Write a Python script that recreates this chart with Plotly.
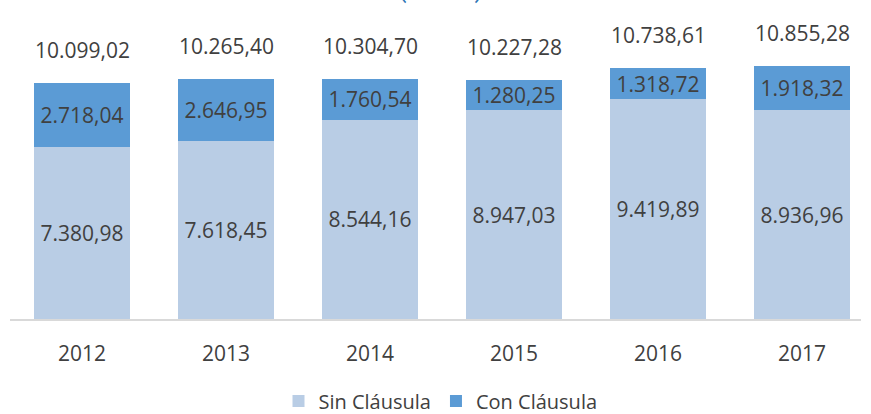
import plotly.graph_objects as go

years = ["2012", "2013", "2014", "2015", "2016", "2017"]
sin_clausula = [7380.98, 7618.45, 8544.16, 8947.03, 9419.89, 8936.96]
con_clausula = [2718.04, 2646.95, 1760.54, 1280.25, 1318.72, 1918.32]
totales = [10099.02, 10265.40, 10304.70, 10227.28, 10738.61, 10855.28]
series_names = ["Sin Cláusula", "Con Cláusula"]
title_text = "(en miles)"


def fmt(v):
    s = f"{v:,.2f}"
    return s.replace(",", "X").replace(".", ",").replace("X", ".")


FONT = "Open Sans"
TXT = "#404040"

fig = go.Figure()
fig.add_trace(go.Bar(
    x=years, y=sin_clausula, name=series_names[0],
    marker=dict(color="#B9CDE5", line=dict(width=0)),
    text=[fmt(v) for v in sin_clausula], textposition="inside",
    insidetextanchor="middle", textangle=0,
    textfont=dict(family=FONT, size=21, color=TXT),
    hoverinfo="skip",
))
fig.add_trace(go.Bar(
    x=years, y=con_clausula, name=series_names[1],
    marker=dict(color="#5B9BD5", line=dict(width=0)),
    text=[fmt(v) for v in con_clausula], textposition="inside",
    insidetextanchor="middle", textangle=0,
    textfont=dict(family=FONT, size=21, color=TXT),
    hoverinfo="skip",
))

for i, t in enumerate(totales):
    fig.add_annotation(x=i, y=t, xref="x", yref="y", text=fmt(t),
                       showarrow=False, yanchor="middle", yshift=33,
                       font=dict(family=FONT, size=21, color=TXT))

fig.add_annotation(x=441 / 871, y=1, xref="paper", yref="paper", text=title_text,
                   showarrow=False, yanchor="bottom", yshift=-6,
                   font=dict(family="Roboto", size=18, color="#2E75B6",
                             weight="bold"))

W = 871 - 10 - 10
fig.update_layout(
    width=871, height=414,
    margin=dict(l=10, r=10, t=0, b=95, pad=0),
    barmode="stack", bargap=0.333,
    plot_bgcolor="white", paper_bgcolor="white",
    uniformtext=dict(mode="show", minsize=21),
    showlegend=True,
    legend=dict(orientation="h", x=0.5 + 5 / 871, xanchor="center",
                xref="container", yref="container", y=13 / 414,
                yanchor="middle", font=dict(family=FONT, size=20, color=TXT),
                itemwidth=30, traceorder="normal"),
    xaxis=dict(type="category", range=[-0.5, -0.5 + W / 144.0],
               showline=True, linecolor="#D9D9D9", linewidth=2,
               ticks="", showgrid=False, ticklabelstandoff=15,
               tickfont=dict(family=FONT, size=21, color=TXT)),
    yaxis=dict(range=[0, 319 * 42.85], visible=False, showgrid=False,
               zeroline=False),
)
fig.write_html("out.html", config={"displayModeBar": False},
               post_script="document.body.style.margin='0';")
